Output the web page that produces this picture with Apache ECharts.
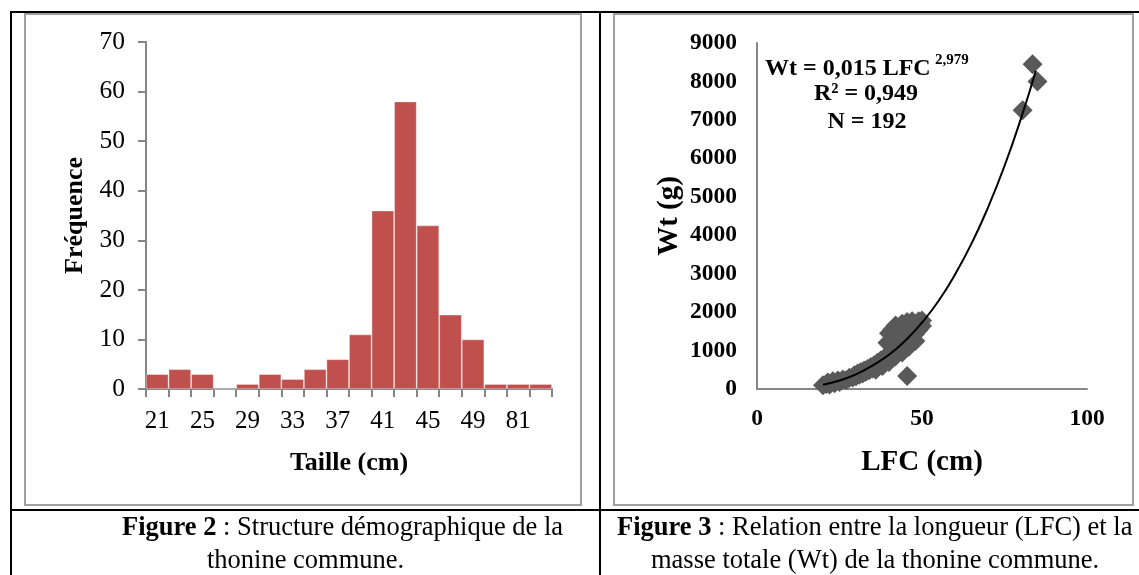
<!DOCTYPE html>
<html><head><meta charset="utf-8">
<script src="https://cdn.jsdelivr.net/npm/echarts@6/dist/echarts.min.js"></script>
<style>html,body{margin:0;padding:0;background:#fff}#c{width:1139px;height:575px}</style>
</head><body><div id="c"></div>
<script>
// ---- Figure 2 : histogram ----
const sizeClasses = ['21','23','25','27','29','31','33','35','37','39','41','43','45','47','49','79','81','83'];
const frequencies = [3,4,3,0,1,3,2,4,6,11,36,58,33,15,10,1,1,1];
const freqTicks = {min:0, max:70, interval:10};

// ---- Figure 3 : length-weight scatter (LFC cm, Wt g) ----
const lfcWt = [
  [20,100],[21,130],[21.5,170],[22,120],[23,200],[23.5,150],[24.5,220],[25,180],[26,250],[27,230],[28,290],
  [29,300],[29.5,360],[30,330],[30.5,400],[31,370],[31.5,440],[32,400],[32.5,480],[33,450],[33.5,520],
  [34,490],[34.5,570],[35,530],[35.5,620],[36,580],[36.5,680],[37,640],[37.5,740],[38,700],[38.5,800],
  [39,760],[39.5,860],[40,820],[40.5,930],[41,880],[41.5,1000],[42,950],
  [42.5,1080],[43,1020],[43.5,1150],[44,1100],[44.5,1230],[45,1180],[45.5,1300],[46,1260],[46.5,1400],
  [47,1340],[47.5,1500],[48,1440],[48.5,1600],[49,1540],[49.5,1700],[50,1640],[50,1780],[49,1760],[48,1680],
  [40,1450],[41,1550],[42,1650],[43,1600],[41.5,1300],[43.5,1450],[39.5,1200],[44,1700],[45.5,1740],[47,1760],
  [40,700],[42,850],[44,950],[46,1100],[48,1250],[38,600],[36,500],
  [45.5,340],
  [80.5,7250],[83.5,8450],[85,8000]
];
const fitCurve = [
  [20,110],[25,220],[30,380],[35,610],[40,890],[45,1260],[50,1730],[55,2290],
  [60,2980],[65,3780],[70,4720],[75,5800],[80,7040],[84.5,8280]
];
const wtTicks = {min:0, max:9000, interval:1000};
const lfcTicks = {min:0, max:100, interval:50};

const F = 'Liberation Serif, Times New Roman, serif';
const G = '#868686';
const chart = echarts.init(document.getElementById('c'), null, {renderer:'canvas'});

function rect(x,y,w,h,c){return {type:'rect',shape:{x:x,y:y,width:w,height:h},style:{fill:c},silent:true,z:100};}
const BL = '#000', GR = '#a0a0a0';
const graphics = [
  rect(10,11,1129,2,BL), rect(10,11,2,564,BL), rect(599,11,2,564,BL), rect(10,509,1129,2,BL),
  rect(24,13,558,2,GR), rect(24,13,2,493,GR), rect(580,13,2,493,GR), rect(24,504,558,2,GR),
  rect(613,13,521,2,GR), rect(613,13,2,493,GR), rect(1132,13,2,493,GR), rect(613,504,521,2,GR),
  {type:'text', left:765, top:57, style:{text:'Wt = 0,015 LFC', font:'bold 24px '+F, fill:'#000'}},
  {type:'text', left:935, top:53, style:{text:'2,979', font:'bold 15px '+F, fill:'#000'}},
  {type:'text', x:866, y:94, style:{text:'R² = 0,949', font:'bold 24px '+F, fill:'#000', align:'center', verticalAlign:'middle'}},
  {type:'text', x:867, y:122, style:{text:'N = 192', font:'bold 24px '+F, fill:'#000', align:'center', verticalAlign:'middle'}},
  {type:'text', x:122, y:528, style:{text:'{b|Figure 2}{r| : Structure démographique de la}', verticalAlign:'middle',
     rich:{b:{font:'bold 26.5px '+F, fill:'#000'}, r:{font:'26.5px '+F, fill:'#000'}}}},
  {type:'text', x:207, y:561, style:{text:'thonine commune.', font:'26.5px '+F, fill:'#000', verticalAlign:'middle'}},
  {type:'text', x:617, y:528, style:{text:'{b|Figure 3}{r| : Relation entre la longueur (LFC) et la}', verticalAlign:'middle',
     rich:{b:{font:'bold 26.5px '+F, fill:'#000'}, r:{font:'26.5px '+F, fill:'#000'}}}},
  {type:'text', x:651, y:561, style:{text:'masse totale (Wt) de la thonine commune.', font:'26.5px '+F, fill:'#000', verticalAlign:'middle'}}
];
const plain = v => String(v);

chart.setOption({
  animation:false,
  backgroundColor:'#fff',
  grid:[
    {left:146, top:42, width:406, height:347},
    {left:757, top:43, width:330, height:346}
  ],
  xAxis:[
    {gridIndex:0, type:'category', data:sizeClasses, boundaryGap:true,
     axisLine:{lineStyle:{color:G, width:2}},
     axisTick:{show:true, interval:0, length:8, lineStyle:{color:G, width:2}},
     axisLabel:{interval:1, color:'#000', fontFamily:F, fontSize:25, margin:20},
     name:'Taille (cm)', nameLocation:'middle', nameGap:61,
     nameTextStyle:{color:'#000', fontFamily:F, fontWeight:'bold', fontSize:26}},
    {gridIndex:1, type:'value', min:lfcTicks.min, max:lfcTicks.max, interval:lfcTicks.interval,
     axisLine:{show:true, lineStyle:{color:G, width:2}}, axisTick:{show:false}, splitLine:{show:false},
     axisLabel:{color:'#000', fontFamily:F, fontWeight:'bold', fontSize:23.5, margin:18, formatter:plain},
     name:'LFC (cm)', nameLocation:'middle', nameGap:59,
     nameTextStyle:{color:'#000', fontFamily:F, fontWeight:'bold', fontSize:29}}
  ],
  yAxis:[
    {gridIndex:0, type:'value', min:freqTicks.min, max:freqTicks.max, interval:freqTicks.interval,
     axisLine:{show:true, lineStyle:{color:G, width:2}},
     axisTick:{show:true, length:8, lineStyle:{color:G, width:2}}, splitLine:{show:false},
     axisLabel:{color:'#000', fontFamily:F, fontSize:25.5, margin:21},
     name:'Fréquence', nameLocation:'middle', nameGap:58,
     nameTextStyle:{color:'#000', fontFamily:F, fontWeight:'bold', fontSize:26}},
    {gridIndex:1, type:'value', min:wtTicks.min, max:wtTicks.max, interval:wtTicks.interval,
     axisLine:{show:true, lineStyle:{color:G, width:2}}, axisTick:{show:false}, splitLine:{show:false},
     axisLabel:{color:'#000', fontFamily:F, fontWeight:'bold', fontSize:23.5, margin:20, formatter:plain},
     name:'Wt (g)', nameLocation:'middle', nameGap:73,
     nameTextStyle:{color:'#000', fontFamily:F, fontWeight:'bold', fontSize:29}}
  ],
  series:[
    {type:'bar', xAxisIndex:0, yAxisIndex:0, data:frequencies, barCategoryGap:'0%',
     itemStyle:{color:'#C0504D', borderColor:'rgba(255,255,255,0.45)', borderWidth:0.8}},
    {type:'scatter', xAxisIndex:1, yAxisIndex:1, data:lfcWt, symbol:'diamond', symbolSize:20,
     itemStyle:{color:'#595959', opacity:1}},
    {type:'line', xAxisIndex:1, yAxisIndex:1, data:fitCurve, smooth:true, showSymbol:false, symbol:'none',
     lineStyle:{color:'#000', width:2}, z:5}
  ],
  graphic:graphics
});
</script></body></html>
